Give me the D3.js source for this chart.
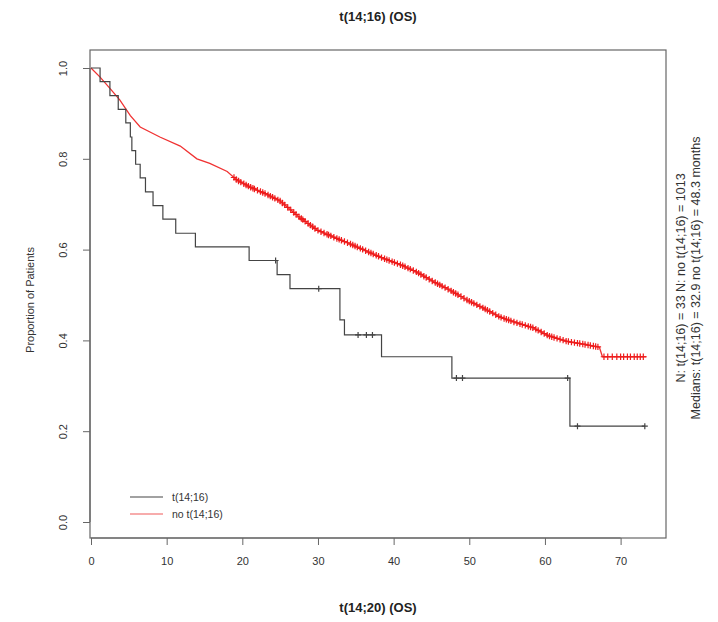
<!DOCTYPE html>
<html>
<head>
<meta charset="utf-8">
<script src="https://cdn.jsdelivr.net/npm/d3@7"></script>
<style>
  body { margin: 0; background: #fff; }
  svg { font-family: "Liberation Sans", Arial, sans-serif; }
</style>
</head>
<body>
<svg id="chart"></svg>
<script>
// Kaplan-Meier: t(14;16) group
const blackTimes = [0, 1.2, 2.5, 3.6, 4.6, 5.2, 5.4, 5.9, 6.5, 7.2, 8.2, 9.5, 11.2, 13.8, 20.9, 24.6, 26.3, 32.9, 33.5, 38.4, 47.7, 63.3];
const blackSurv = [1, 0.970, 0.939, 0.909, 0.879, 0.848, 0.818, 0.788, 0.758, 0.727, 0.697, 0.667, 0.636, 0.606, 0.576, 0.545, 0.514, 0.445, 0.412, 0.364, 0.317, 0.211];
const blackCensor = [24.4, 30.1, 35.3, 36.4, 37.2, 48.3, 49.1, 63.0, 64.3, 73.2];

// no t(14;16) group (large n, looks smooth)
const redTimes = [0, 1.2, 2.5, 3.8, 5.2, 6.5, 9.1, 11.8, 14.0, 15.7, 18, 19.3, 21, 23.2, 25, 27.5, 29.9, 32, 34.2, 36.5, 38.6, 41, 43, 45.2, 47.4, 49.7, 52, 54, 56, 58.4, 60.5, 62.9, 65, 67.2, 67.6, 73.4];
const redSurv = [1, 0.98, 0.955, 0.93, 0.895, 0.87, 0.848, 0.828, 0.80, 0.79, 0.772, 0.753, 0.738, 0.722, 0.707, 0.672, 0.643, 0.628, 0.613, 0.596, 0.581, 0.566, 0.551, 0.53, 0.511, 0.489, 0.47, 0.452, 0.44, 0.428, 0.41, 0.398, 0.392, 0.385, 0.364, 0.364];
const redCensor = [18.9, 19.2, 19.5, 19.8, 20.2, 20.5, 20.8, 21.1, 21.4, 21.6, 22.0, 22.4, 22.7, 23.0, 23.4, 23.7, 24.0, 24.3, 24.7, 25.0, 25.3, 25.6, 26.0, 26.4, 26.8, 27.1, 27.5, 27.8, 28.0, 28.3, 28.7, 29.0, 29.3, 29.6, 30.0, 30.4, 30.8, 31.2, 31.4, 31.7, 32.1, 32.5, 32.8, 33.1, 33.5, 33.9, 34.3, 34.6, 34.9, 35.2, 35.6, 35.9, 36.3, 36.7, 37.0, 37.3, 37.7, 38.0, 38.4, 38.8, 39.1, 39.4, 39.8, 40.1, 40.5, 40.9, 41.2, 41.5, 41.9, 42.2, 42.6, 43.0, 43.3, 43.6, 44.0, 44.3, 44.7, 45.1, 45.5, 45.8, 46.1, 46.4, 46.8, 47.2, 47.6, 47.9, 48.2, 48.5, 48.9, 49.3, 49.7, 50.0, 50.3, 50.6, 51.0, 51.4, 51.8, 52.1, 52.4, 52.7, 53.1, 53.5, 53.9, 54.2, 54.6, 54.9, 55.2, 55.5, 55.9, 56.3, 56.7, 57.0, 57.4, 57.8, 58.1, 58.4, 58.8, 59.1, 59.5, 59.9, 60.3, 60.6, 60.9, 61.2, 61.6, 62.0, 62.4, 62.8, 63.1, 63.5, 63.9, 64.3, 64.6, 65.0, 65.3, 65.7, 66.0, 66.4, 66.7, 67.0, 67.8, 68.3, 68.9, 69.5, 70.0, 70.4, 70.9, 71.3, 71.8, 72.2, 72.6, 73.0];

const xTicks = [0, 10, 20, 30, 40, 50, 60, 70];
const yTicks = [0, 0.2, 0.4, 0.6, 0.8, 1.0];
const legendLabels = ["t(14;16)", "no t(14;16)"];
const titleText = "t(14;16) (OS)";
const xLabel = "t(14;20) (OS)";
const yLabel = "Proportion of Patients";
const sideLines = ["N: t(14;16) = 33  N: no t(14;16) = 1013", "Medians: t(14;16) = 32.9  no t(14;16) = 48.3    months"];

const W = 718, H = 622;
const box = { left: 90, right: 666, top: 50, bottom: 538 };
const axisCol = "#666", textCol = "#333";

const svg = d3.select("#chart").attr("width", W).attr("height", H);
svg.append("rect").attr("width", W).attr("height", H).attr("fill", "#fff");

// scales
const x = d3.scaleLinear().domain([0, 76]).range([91, 666]);
const y = d3.scaleLinear().domain([0, 1]).range([522, 68]);

// plot box
svg.append("rect")
  .attr("x", box.left).attr("y", box.top)
  .attr("width", box.right - box.left).attr("height", box.bottom - box.top)
  .attr("fill", "none").attr("stroke", axisCol).attr("stroke-width", 1.2);

// x axis
const xAxis = d3.axisBottom(x).tickValues(xTicks).tickSize(7).tickPadding(12).tickSizeOuter(0);
const xg = svg.append("g").attr("transform", `translate(0,${box.bottom})`).call(xAxis);
xg.select(".domain").attr("stroke", axisCol).attr("stroke-width", 1.2)
  .attr("d", `M${x(0)},0H${x(70)}`);
xg.selectAll(".tick line").attr("stroke", axisCol);
xg.selectAll(".tick text").attr("fill", textCol).style("font-size", "11px");

// y axis
const yAxis = d3.axisLeft(y).tickValues(yTicks).tickSize(7).tickFormat(d3.format(".1f")).tickSizeOuter(0);
const yg = svg.append("g").attr("transform", `translate(${box.left},0)`).call(yAxis);
yg.select(".domain").attr("stroke", axisCol).attr("stroke-width", 1.2)
  .attr("d", `M0,${y(0)}V${y(1)}`);
yg.selectAll(".tick line").attr("stroke", axisCol);
yg.selectAll(".tick text")
  .attr("fill", textCol).style("font-size", "11px")
  .attr("x", null).attr("dy", null)
  .attr("text-anchor", "middle")
  .attr("transform", "translate(-23,0) rotate(-90)");

// titles
svg.append("text").attr("x", 378).attr("y", 21).attr("text-anchor", "middle")
  .style("font-size", "13px").style("font-weight", "bold").attr("fill", "#222").text(titleText);
svg.append("text").attr("x", 378).attr("y", 612).attr("text-anchor", "middle")
  .style("font-size", "13px").style("font-weight", "bold").attr("fill", "#222").text(xLabel);
svg.append("text").attr("transform", "translate(34,300) rotate(-90)").attr("text-anchor", "middle")
  .style("font-size", "11px").attr("fill", textCol).text(yLabel);

// side text
sideLines.forEach((s, i) => {
  svg.append("text")
    .attr("transform", `translate(${685 + i * 15},278) rotate(-90)`)
    .attr("text-anchor", "middle")
    .style("font-size", "12.5px").attr("fill", textCol).text(s);
});

// curves
const stepLine = d3.line().x(d => x(d[0])).y(d => y(d[1])).curve(d3.curveStepAfter);
const smoothLine = d3.line().x(d => x(d[0])).y(d => y(d[1]));

const blackPts = blackTimes.map((t, i) => [t, blackSurv[i]]);
blackPts.push([d3.max(blackCensor), blackSurv[blackSurv.length - 1]]);
const redPts = redTimes.map((t, i) => [t, redSurv[i]]);

// survival value at time t
function stepAt(t) {
  const i = d3.bisectRight(blackTimes, t) - 1;
  return blackSurv[Math.max(0, i)];
}
function linAt(t) {
  const i = Math.min(redTimes.length - 2, Math.max(0, d3.bisectRight(redTimes, t) - 1));
  const f = (t - redTimes[i]) / (redTimes[i + 1] - redTimes[i]);
  return redSurv[i] + f * (redSurv[i + 1] - redSurv[i]);
}

svg.append("path").datum(redPts).attr("d", smoothLine)
  .attr("fill", "none").attr("stroke", "#f03232").attr("stroke-width", 1.3);

svg.append("path").datum(blackPts).attr("d", stepLine)
  .attr("fill", "none").attr("stroke", "#444").attr("stroke-width", 1.2);

// censor marks (+)
function plus(g, pts, col, s) {
  g.selectAll("path.cens").data(pts).join("path")
    .attr("class", "cens")
    .attr("d", d => `M${x(d[0]) - s},${y(d[1])}h${2 * s}M${x(d[0])},${y(d[1]) - s}v${2 * s}`)
    .attr("stroke", col).attr("stroke-width", 1.2).attr("fill", "none");
}
plus(svg.append("g"), redCensor.map(t => [t, linAt(t)]), "#ee1c1c", 3.2);
plus(svg.append("g"), blackCensor.map(t => [t, stepAt(t)]), "#444", 3);

// legend
const legCols = ["#444", "#f05a5a"];
legendLabels.forEach((lab, i) => {
  const ly = 497 + i * 17;
  svg.append("line").attr("x1", 130).attr("x2", 163).attr("y1", ly).attr("y2", ly)
    .attr("stroke", legCols[i]).attr("stroke-width", 1.2);
  svg.append("text").attr("x", 172).attr("y", ly + 4)
    .style("font-size", "10.5px").attr("fill", textCol).text(lab);
});
</script>
</body>
</html>
